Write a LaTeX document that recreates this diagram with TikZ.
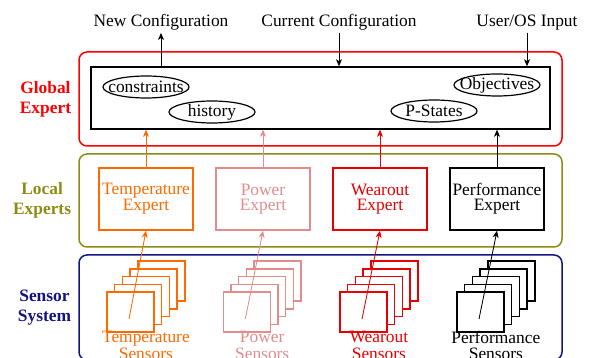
\documentclass[tikz,border=0pt]{standalone}
\usepackage{fontspec}
\setmainfont{Liberation Serif}
\usepackage{tikz}
\usetikzlibrary{shapes,arrows,arrows.meta,positioning,calc,fit}
\definecolor{tempcol}{RGB}{255,106,0}
\definecolor{powcol}{RGB}{226,140,140}
\definecolor{wearcol}{RGB}{232,0,0}
\definecolor{globcol}{RGB}{255,0,0}
\definecolor{localcol}{RGB}{140,140,20}
\definecolor{sensecol}{RGB}{20,20,130}
\newcommand{\bigfont}{\fontsize{17.4}{15}\selectfont}
\tikzstyle{layer} = [rectangle, draw, line width=1.5pt, rounded corners=8pt, minimum width=483pt, inner sep=0pt]
\tikzstyle{expert} = [rectangle, draw, line width=1.5pt, minimum width=94pt, minimum height=62pt, align=center, inner sep=0pt, font=\bigfont]
\tikzstyle{state} = [ellipse, draw, line width=1.2pt, minimum width=86pt, minimum height=22pt, inner xsep=-10pt, inner ysep=-1pt, font=\bigfont]
\tikzstyle{sensor} = [rectangle, draw, fill=white, line width=1.5pt, minimum width=47pt, minimum height=40pt, inner sep=0pt]
\tikzstyle{layerlabel} = [align=center, inner sep=3pt, font=\fontsize{17.4}{20}\selectfont\bfseries]
\tikzstyle{extlabel} = [anchor=base, inner sep=2pt, font=\bigfont]
\tikzstyle{sensorlabel} = [anchor=north, align=center, inner sep=0pt, font=\fontsize{17.4}{16.5}\selectfont]
\tikzstyle{line} = [draw, line width=0.8pt, -{Stealth[length=7pt,width=6pt,inset=2pt]}]

\begin{document}
\begin{tikzpicture}[x=1pt, y=-1pt]
	\useasboundingbox (0,0) rectangle (592,358);
	\clip (0,0) rectangle (592,358);

	% Global expert
	\node [layer, draw=globcol, minimum height=94pt] (Global) at (320.5,99) {};
	\node [rectangle, draw, line width=1.5pt, minimum width=459pt, minimum height=62pt] (Inner) at (320.5,98) {};
	\node [state] (Constraints) at (146,87) {constraints};
	\node [state] (History) at (212,112) {history};
	\node [state] (Objectives) at (497,85) {Objectives};
	\node [state] (PStates) at (434,111) {P-States};

	% Outside world
	\node [extlabel] (NewCfg) at (161,27) {New Configuration};
	\node [extlabel] (CurCfg) at (339,27) {Current Configuration};
	\node [extlabel] (UserIn) at (527,27) {User/OS Input};

	% Local experts
	\node [layer, draw=localcol, minimum height=93pt] (Local) at (320.5,200.5) {};
	\node [expert, draw=tempcol, text=tempcol] (TempExpert) at (146,199) {Temperature\\Expert};
	\node [expert, draw=powcol, text=powcol, right of=TempExpert, node distance=117pt] (PowerExpert) {Power\\Expert};
	\node [expert, draw=wearcol, text=wearcol, right of=PowerExpert, node distance=117pt] (WearExpert) {Wearout\\Expert};
	\node [expert, right of=WearExpert, node distance=117pt] (PerfExpert) {Performance\\Expert};

	% Sensor system
	\node [layer, draw=sensecol, minimum height=105pt] (Sensors) at (320.5,307.5) {};

	% Layer names
	\node [layerlabel, text=globcol, left=4pt of Global] (GlobalLbl) {Global\\Expert};
	\node [layerlabel, text=localcol, left=4pt of Local] (LocalLbl) {Local\\Experts};
	\node [layerlabel, text=sensecol, left=4pt of Sensors] (SensorsLbl) {Sensor\\System};

	% Sensor stacks and their paths
	\foreach \name/\x/\col/\txt in {Temp/130.5/tempcol/Temperature, Power/246.8/powcol/Power, Wear/363.5/wearcol/Wearout, Perf/480.5/black/Performance} {
		\foreach \i in {4,...,0}
			\node [sensor, draw=\col] (\name Sensor\i) at (\x+\i*7.7,312-\i*7.7) {};
		\node [sensorlabel, text=\col] (\name Lbl) at (\x+15.4,331) {\txt\\Sensors};
		\path [line, draw=\col, fill=\col] ($(\name Sensor0.center)+(-1.5,7)$) -- (\name Expert.south);
		\path [line, draw=\col, fill=\col] (\name Expert.north) -- (\name Expert.north |- Inner.south);
	}

	% Paths
	\path [line] (Inner.north -| NewCfg) -- (NewCfg.south);
	\path [line] (CurCfg.south) -- (CurCfg.south |- Inner.north);
	\path [line] (UserIn.south) -- (UserIn.south |- Inner.north);
\end{tikzpicture}
\end{document}
